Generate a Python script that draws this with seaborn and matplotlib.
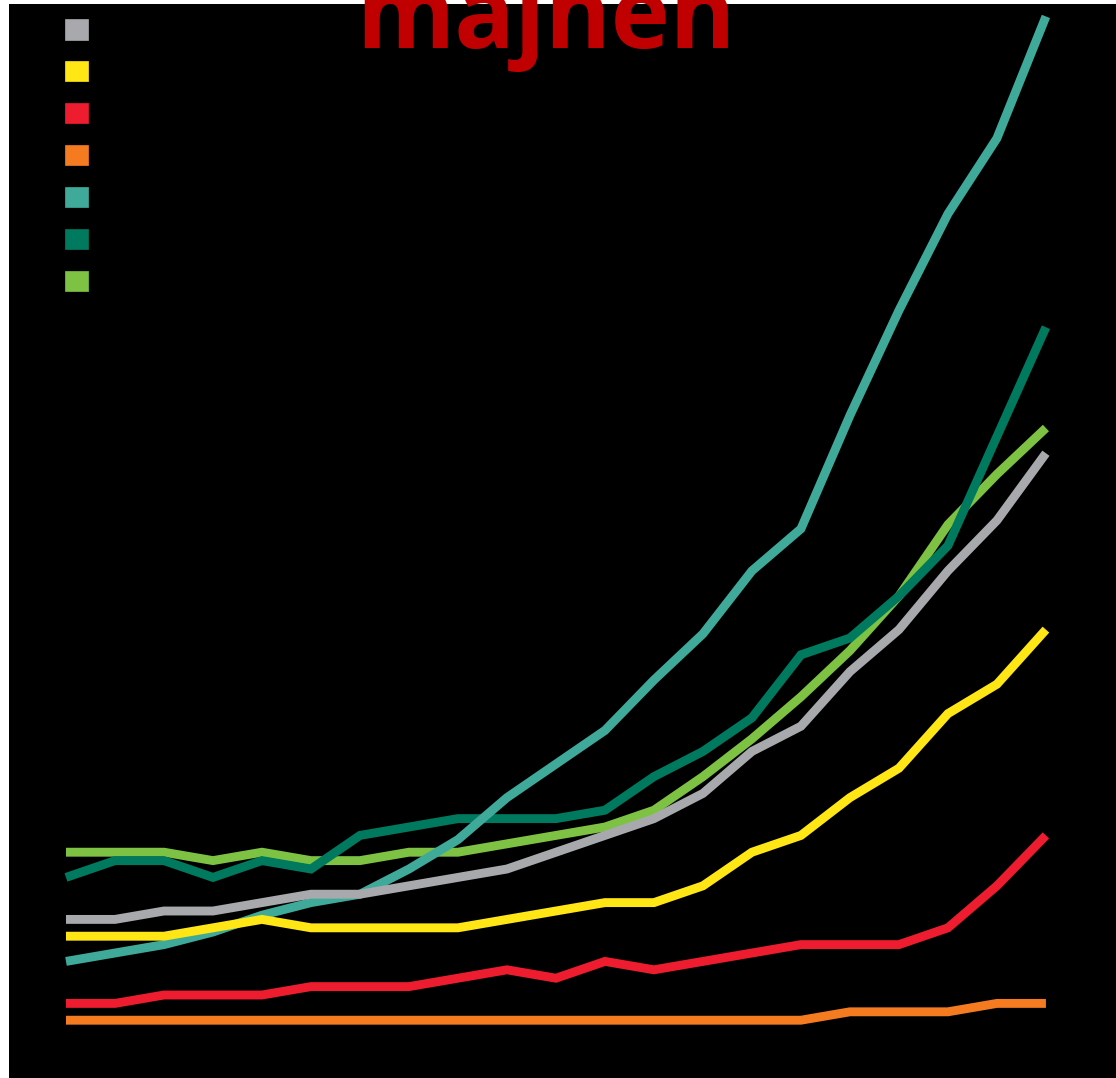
import matplotlib
matplotlib.use("Agg")
import matplotlib.pyplot as plt
from matplotlib.patches import Patch
import pandas as pd
import seaborn as sns

# Periods along the x axis
periods = list(range(21))

# Series names (legend order) and their colours
series_names = ["Serie A", "Serie B", "Serie C", "Serie D", "Serie E", "Serie F", "Serie G"]
series_colors = ["#A8A9AC", "#FFE614", "#ED1C2E", "#F47B20", "#40AA9A", "#007A5E", "#7DC242"]

# Values per series
serie_a = [18, 18, 19, 19, 20, 21, 21, 22, 23, 24, 26, 28, 30, 33, 38, 41, 47.5, 52.5, 59.5, 65.5, 73.5]
serie_b = [16, 16, 16, 17, 18, 17, 17, 17, 17, 18, 19, 20, 20, 22, 26, 28, 32.5, 36, 42.5, 46, 52.5]
serie_c = [8, 8, 9, 9, 9, 10, 10, 10, 11, 12, 11, 13, 12, 13, 14, 15, 15, 15, 17, 22, 28]
serie_d = [6, 6, 6, 6, 6, 6, 6, 6, 6, 6, 6, 6, 6, 6, 6, 6, 7, 7, 7, 8, 8]
serie_e = [13, 14, 15, 16.5, 18.5, 20, 21, 24, 27.5, 32.5, 36.5, 40.5, 46.5, 52, 59.5, 64.5, 78, 90.5, 102, 111, 125.5]
serie_f = [23, 25, 25, 23, 25, 24, 28, 29, 30, 30, 30, 31, 35, 38, 42, 49.5, 51.5, 56.5, 62.5, 75.5, 88.5]
serie_g = [26, 26, 26, 25, 26, 25, 25, 26, 26, 27, 28, 29, 31, 35, 39.5, 44.5, 50, 56.5, 65, 71, 76.5]

title_text = "majnen"

all_values = [serie_a, serie_b, serie_c, serie_d, serie_e, serie_f, serie_g]
rows = []
for name, vals in zip(series_names, all_values):
    for p, v in zip(periods, vals):
        rows.append({"period": p, "value": v, "serie": name})
df = pd.DataFrame(rows)
palette = dict(zip(series_names, series_colors))

sns.set_theme(style="white")
plt.rcParams["font.family"] = ["Open Sans", "DejaVu Sans"]

fig = plt.figure(figsize=(11.16, 10.78), dpi=100, facecolor="white")
ax = fig.add_axes([9 / 1116, 0, 1 - 9 / 1116, 1074 / 1078])
ax.set_facecolor("black")

# Draw in reverse legend order so the first series ends up on top
sns.lineplot(
    data=df, x="period", y="value", hue="serie",
    hue_order=series_names[::-1], palette=palette,
    linewidth=6.4, errorbar=None, legend=False, ax=ax,
    solid_capstyle="butt", solid_joinstyle="miter",
)

ax.set_xlim(-1.163, 21.43)
ax.set_ylim(-0.88, 126.98)
ax.set_xticks([])
ax.set_yticks([])
ax.set_xlabel("")
ax.set_ylabel("")
for s in ax.spines.values():
    s.set_visible(False)

handles = [Patch(facecolor=c, edgecolor=c, linewidth=0.5) for c in series_colors]
leg = fig.legend(
    handles, series_names, loc="upper left",
    bbox_to_anchor=(65 / 1116, 1 - 19 / 1078), bbox_transform=fig.transFigure,
    frameon=False, fontsize=16.5, handlelength=1.0, handleheight=1.0,
    labelspacing=0.78, borderpad=0, borderaxespad=0, handletextpad=0.6,
    labelcolor="black",
)

fig.text(0.489, 1 - 48 / 1078, title_text, ha="center", va="baseline",
         fontsize=72, fontweight="bold", color="#C00000")

fig.savefig("out.png", dpi=100, facecolor="white")
